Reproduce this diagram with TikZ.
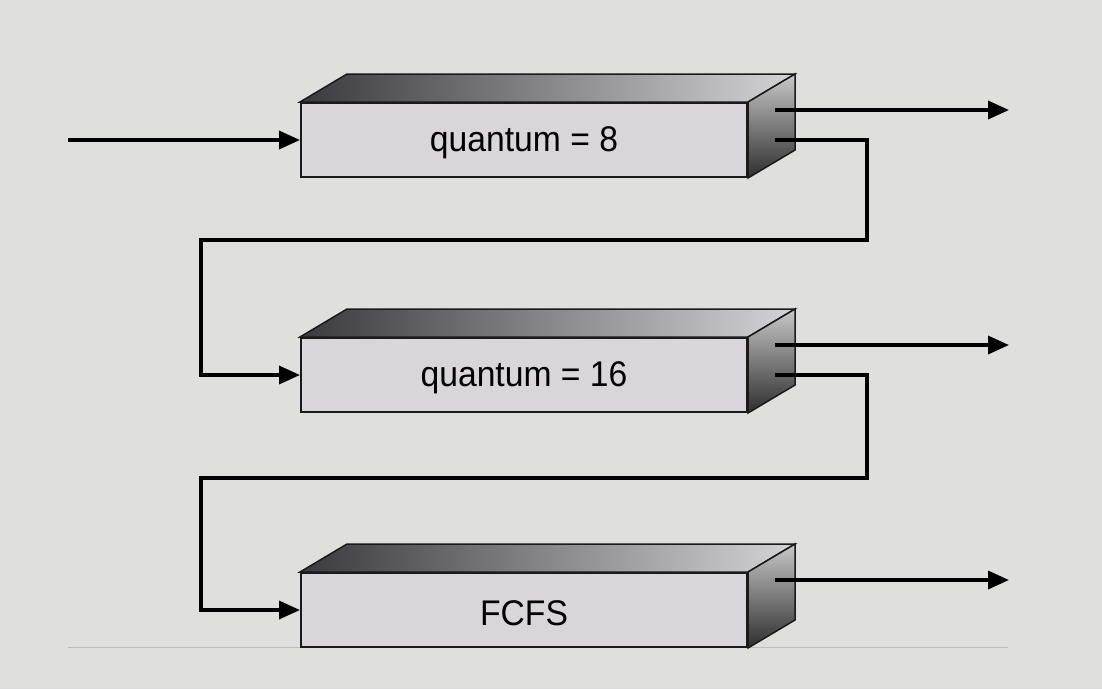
\documentclass[tikz,border=0pt]{standalone}
\usepackage{fontspec}
\setmainfont{Liberation Sans}
\usetikzlibrary{arrows.meta}
\definecolor{bg}{HTML}{DFDFDD}
\definecolor{face}{HTML}{D8D6DA}
\definecolor{edge}{HTML}{1A1A1A}
\definecolor{topdark}{HTML}{3A3A3E}
\definecolor{toplight}{HTML}{D4D4D6}
\definecolor{sidelight}{HTML}{C8C8C8}
\definecolor{sidedark}{HTML}{2E2E2E}
\begin{document}
\begin{tikzpicture}[x=1pt,y=-1pt,
  queuebox/.style={rectangle, draw=edge, line width=2pt, fill=face,
    minimum width=446pt, minimum height=74pt, inner sep=0pt},
  topface/.style={draw=edge, line width=1.5pt, left color=topdark, right color=toplight},
  sideface/.style={draw=edge, line width=1.5pt, top color=sidelight, bottom color=sidedark},
  arr/.style={line width=3.5pt, draw=black, -{Triangle[length=21pt,width=18pt]}},
  boxtext/.style={font=\fontsize{33}{38}\selectfont, inner sep=0pt}]
\fill[bg] (0,0) rectangle (1102,689);
\useasboundingbox (0,0) rectangle (1102,689);
% baseline
\draw[line width=1pt, draw=black!25] (68,647) -- (1008,647);
% boxes
\foreach \n/\y/\t in {q1/140/{quantum = 8}, q2/375/{quantum = 16}, q3/610/{FCFS}}{
  \node[queuebox] (\n) at (524,\y) {};
  \node[boxtext] (\n t) at ([yshift=-3pt]\n.center) {\scalebox{1.02}[1.08]{\t}};
  \shade[topface] (\n.north west) -- ([shift={(47,-28)}]\n.north west) -- ([shift={(47,-28)}]\n.north east) -- (\n.north east) -- cycle;
  \shade[sideface] (\n.north east) -- ([shift={(47,-28)}]\n.north east) -- ([shift={(47,-28)}]\n.south east) -- (\n.south east) -- cycle;
}
% coordinates
\coordinate (in) at (68,140);
\foreach \n in {q1,q2,q3}{
  \coordinate (\n oa) at ([shift={(27,-30)}]\n.east);
  \coordinate (\n ob) at ([shift={(27,0)}]\n.east);
  \coordinate (\n end) at ([shift={(261,-30)}]\n.east);
}
\coordinate (r1) at (867,240);
\coordinate (l1) at (201,375);
\coordinate (r2) at (867,478);
\coordinate (l2) at (201,610);
% connectors
\draw[arr] (in) -- (q1.west);
\draw[arr] (q1oa) -- (q1end);
\draw[arr] (q2oa) -- (q2end);
\draw[arr] (q3oa) -- (q3end);
\draw[arr] (q1ob) -| (r1) -| (l1) -- (q2.west);
\draw[arr] (q2ob) -| (r2) -| (l2) -- (q3.west);
\end{tikzpicture}
\end{document}
